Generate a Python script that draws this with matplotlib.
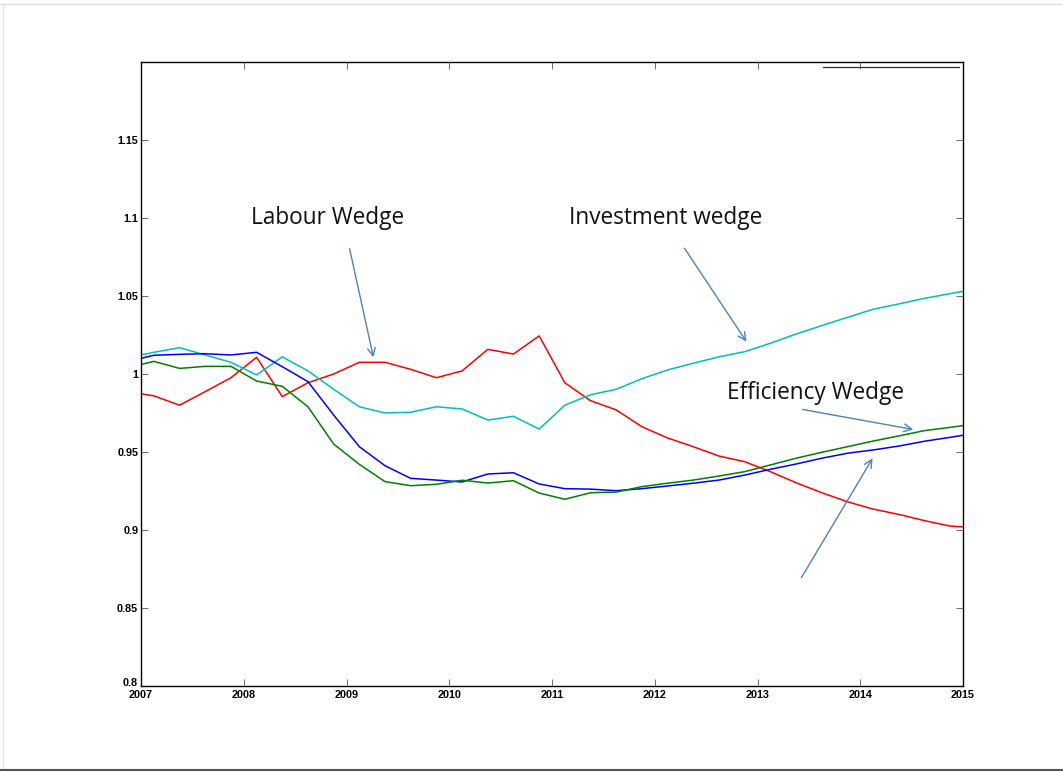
import matplotlib

matplotlib.use("Agg")
import matplotlib.pyplot as plt
from matplotlib.lines import Line2D
import matplotlib.transforms as mtransforms
import numpy as np

# quarterly observations, plotted at mid-quarter (2006Q4 .. 2015Q1)
quarters = np.arange(2006.875, 2015.2, 0.25)

labour = [0.9885, 0.986, 0.980, 0.9887, 0.9976, 1.0107, 0.9855, 0.9944, 1.000,
          1.0075, 1.0075, 1.003, 0.9976, 1.002, 1.0158, 1.0128, 1.0244, 0.9944,
          0.9829, 0.977, 0.9662, 0.9590, 0.9534, 0.9474, 0.9438, 0.9374, 0.9303,
          0.9239, 0.9181, 0.9134, 0.910, 0.906, 0.9025, 0.9015]
investment = [1.0105, 1.0139, 1.0169, 1.0122, 1.0075, 0.9994, 1.011, 1.002, 0.9902,
              0.979, 0.975, 0.9755, 0.979, 0.9776, 0.9705, 0.9729, 0.9647, 0.980,
              0.9867, 0.9902, 0.997, 1.0026, 1.0069, 1.011, 1.0143, 1.0197, 1.0256,
              1.031, 1.0363, 1.0415, 1.0449, 1.0485, 1.0515, 1.0545]
efficiency_a = [1.008, 1.012, 1.0126, 1.013, 1.0122, 1.0139, 1.0047, 0.9951, 0.9737,
                0.9534, 0.9412, 0.9331, 0.932, 0.9308, 0.9359, 0.9367, 0.9295, 0.9265,
                0.9262, 0.9252, 0.9265, 0.9282, 0.930, 0.932, 0.9352, 0.9389, 0.9423,
                0.946, 0.9492, 0.9513, 0.9538, 0.9569, 0.9594, 0.962]
efficiency_b = [1.004, 1.0081, 1.0036, 1.0049, 1.0049, 0.9955, 0.9921, 0.979, 0.9551,
                0.9421, 0.931, 0.9284, 0.9293, 0.9319, 0.9301, 0.9316, 0.9237, 0.9197,
                0.9239, 0.9243, 0.9278, 0.930, 0.932, 0.9346, 0.9374, 0.9417, 0.946,
                0.9498, 0.9534, 0.957, 0.9603, 0.9637, 0.9658, 0.968]

years = list(range(2007, 2016))
yticks = [0.8, 0.85, 0.9, 0.95, 1.0, 1.05, 1.1, 1.15]
ytick_labels = ["0.8", "0.85", "0.9", "0.95", "1", "1.05", "1.1", "1.15"]

ARROW = "#4f81bd"

fig = plt.figure(figsize=(10.63, 7.72), dpi=100)
ax = fig.add_axes([141 / 1063, 1 - 686 / 772, 822 / 1063, 624 / 772])

ax.plot(quarters, labour, color="#ff0000", lw=1.1)
ax.plot(quarters, investment, color="#00bfbf", lw=1.1)
ax.plot(quarters, efficiency_a, color="#0000ff", lw=1.1)
ax.plot(quarters, efficiency_b, color="#008000", lw=1.1)

ax.set_xlim(2007, 2015)
ax.set_ylim(0.8, 1.2)
ax.set_xticks(years)
ax.set_xticklabels([str(y) for y in years])
ax.set_yticks(yticks)
ax.set_yticklabels(ytick_labels)
ax.tick_params(direction="in", top=True, right=True, length=5, width=0.6,
               color="#555555")
ax.tick_params(axis="x", pad=3)
ax.tick_params(axis="y", pad=2)
for lab in ax.get_xticklabels() + ax.get_yticklabels():
    lab.set_fontfamily("Liberation Sans")
    lab.set_fontweight("bold")
    lab.set_fontsize(7.8)
# lift the lowest y label a little so it clears "2007", as in the original
lowest = ax.get_yticklabels()[0]
lowest.set_transform(lowest.get_transform()
                     + mtransforms.ScaledTranslation(0, 3 / 72, fig.dpi_scale_trans))
for s in ax.spines.values():
    s.set_linewidth(1.0)

# stray empty-legend rule at the top right
ax.add_line(Line2D([0.83, 0.995], [0.992, 0.992], transform=ax.transAxes,
                   color="#333333", lw=0.9))

# ---- annotations (figure pixel coordinates) --------------------------------
def px(x, y):
    return (x / 1063, 1 - y / 772)


def note(text, x, y):
    fig.text(*px(x, y), text, ha="left", va="center", fontsize=16.3,
             family="Open Sans", color="#111111")


def arrow(x0, y0, x1, y1):
    ax.annotate("", xy=px(x1, y1), xytext=px(x0, y0),
                xycoords="figure fraction", textcoords="figure fraction",
                arrowprops=dict(arrowstyle="->", color=ARROW, lw=1.0,
                                mutation_scale=14))


note("Labour Wedge", 251, 218)
note("Investment wedge", 569, 218)
note("Efficiency Wedge", 727, 393)
arrow(349, 246, 374, 360)
arrow(683, 246, 748, 344)
arrow(800, 409, 916, 430)
arrow(800, 580, 874, 456)

# slide frame
fig.add_artist(Line2D([0, 1], [1 - 4 / 772] * 2, transform=fig.transFigure,
                      color="#dddddd", lw=1))
fig.add_artist(Line2D([3 / 1063] * 2, [1 - 4 / 772, 2 / 772], transform=fig.transFigure,
                      color="#e4e4e4", lw=1))
fig.add_artist(Line2D([0, 1], [2 / 772] * 2, transform=fig.transFigure,
                      color="#555555", lw=1.5))

fig.savefig("out.png", dpi=100, facecolor="white")
